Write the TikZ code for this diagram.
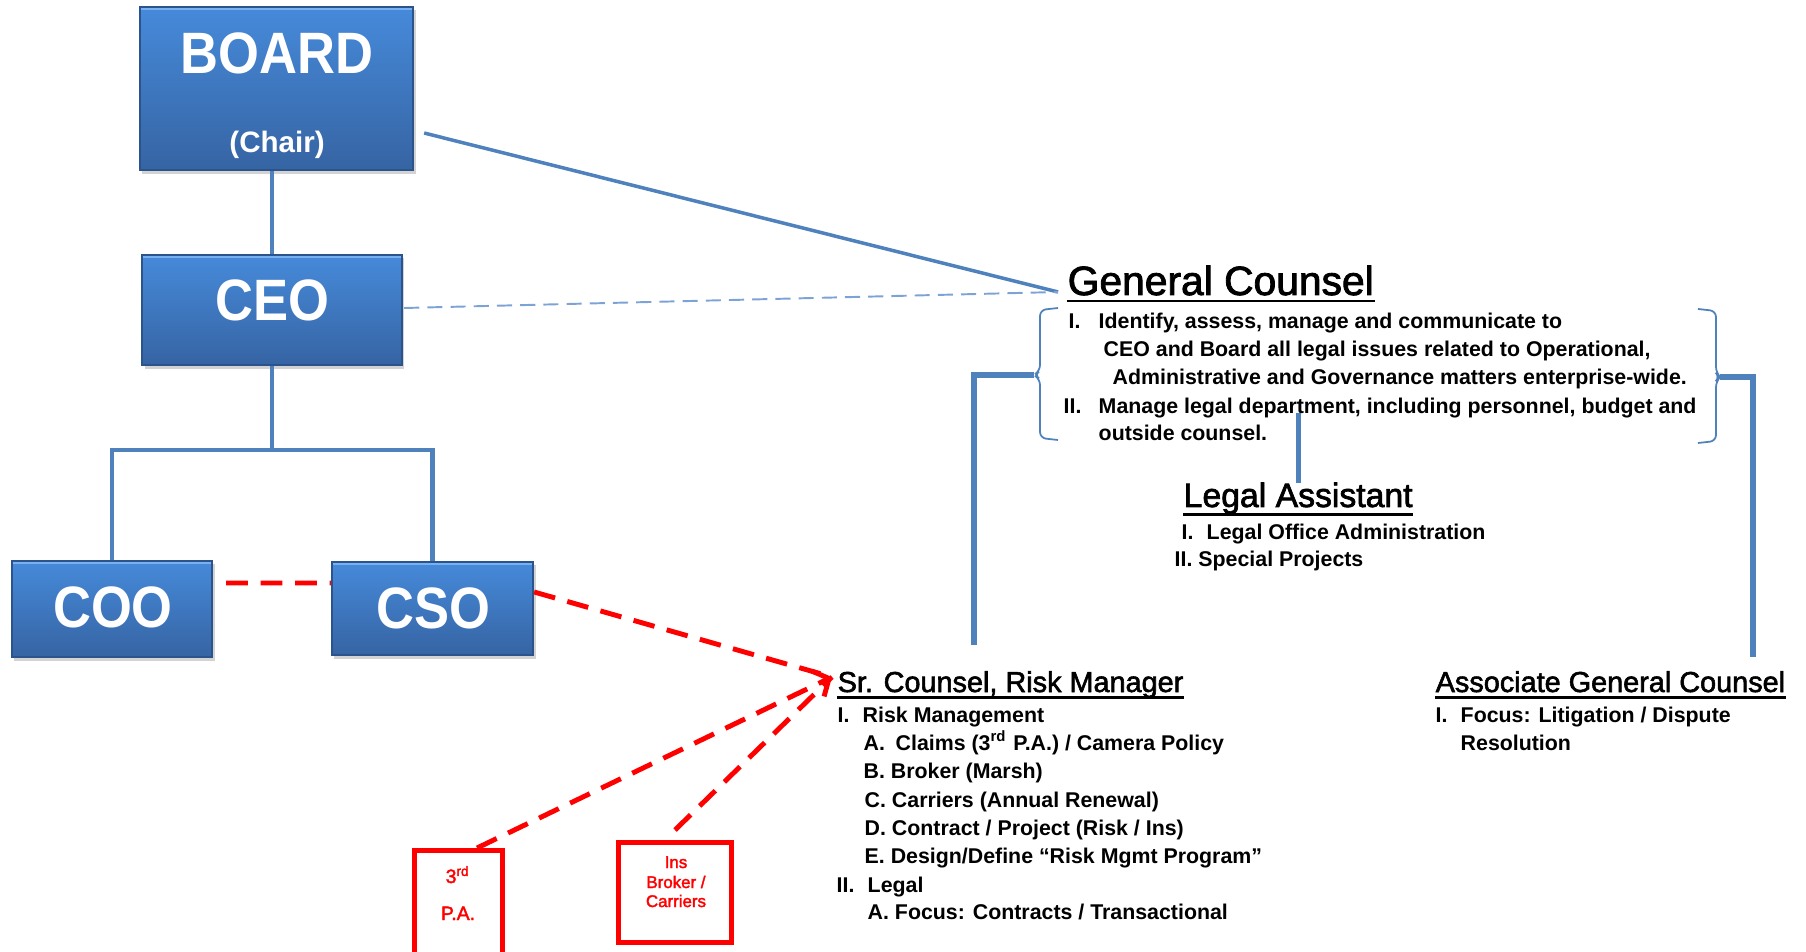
\documentclass[tikz,border=0pt]{standalone}
\usepackage{fontspec}
\setmainfont{Liberation Sans}
\newfontfamily\boxfont[FakeStretch=0.9]{Liberation Sans}
\newfontfamily\headfont[FakeBold=2]{Liberation Sans}
\usetikzlibrary{shadows,arrows.meta}

\definecolor{lineblue}{RGB}{79,129,189}
\definecolor{dashblue}{RGB}{125,163,214}
\definecolor{boxtop}{RGB}{70,138,218}
\definecolor{boxbot}{RGB}{54,100,163}
\definecolor{boxline}{RGB}{44,84,140}
\definecolor{boxhi}{RGB}{120,176,240}

\tikzset{
  orgbox/.style={draw=boxline, line width=0.6pt, top color=boxtop, bottom color=boxbot, inner sep=0pt,
    drop shadow={shadow xshift=0.025cm, shadow yshift=-0.035cm, opacity=0.35},
    path picture={\draw[boxhi, line width=1.6pt] (path picture bounding box.north west) -- (path picture bounding box.north east);}},
  boxtxt/.style={anchor=base, inner sep=0pt, text=white, font=\boxfont\bfseries\fontsize{16.6}{18}\selectfont},
  chairtxt/.style={anchor=base, inner sep=0pt, text=white, font=\bfseries\fontsize{8.4}{9}\selectfont},
  ttl/.style={anchor=base west, inner sep=0pt, font=\headfont\fontsize{#1}{#1}\selectfont},
  lst/.style={anchor=base west, inner sep=0pt, font=\bfseries\fontsize{6.07}{8}\selectfont},
  uline/.style={line width=0.85pt},
  conn/.style={draw=lineblue, line width=1.4pt},
  gcconn/.style={draw=lineblue, line width=1.5pt},
  boardline/.style={draw=lineblue, line width=1pt},
  ceodash/.style={draw=dashblue, line width=0.55pt, dash pattern=on 4.3pt off 2.3pt},
  brace/.style={draw=lineblue, line width=0.5pt, rounded corners=0.06cm},
  redbox/.style={draw=red, line width=1.4pt, inner sep=0pt},
  redtxt/.style={anchor=base, inner sep=0pt, text=red, font=\headfont\fontsize{#1}{#1}\selectfont},
  redline/.style={draw=red, line width=1.4pt, dash pattern=on 6.2pt off 3.6pt}
}

\begin{document}
\begin{tikzpicture}[x=0.01cm, y=-0.01cm]
\useasboundingbox (0,0) rectangle (1806,952);
% blue boxes
\node[orgbox, minimum width=2.73cm, minimum height=1.63cm] (board) at (276.5,88.5) {};
\node[boxtxt] (boardtxt) at (277,74) {BOARD};
\node[chairtxt] (chair) at (277,153) {(Chair)};
\node[orgbox, minimum width=2.59cm, minimum height=1.10cm] (ceo) at (272,310) {};
\node[boxtxt] (ceotxt) at (272,321) {CEO};
\node[orgbox, minimum width=2.00cm, minimum height=0.96cm] (coo) at (112,609) {};
\node[boxtxt] (cootxt) at (113,627) {COO};
\node[orgbox, minimum width=2.01cm, minimum height=0.93cm] (cso) at (432.5,608.5) {};
\node[boxtxt] (csotxt) at (433,628) {CSO};
% reporting lines
\coordinate (bus) at (272,450);
\draw[conn] (ceo.north) -- (ceo.north |- board.south);
\draw[conn] (ceo.south) -- (bus);
\draw[conn] (coo.north) |- (bus) -| (cso.north);
\coordinate (gcjoin) at (1058,292);
\draw[boardline] ([xshift=0.1cm,yshift=-0.445cm]board.east) -- (gcjoin);
\draw[ceodash] ([xshift=0.015cm,yshift=0.02cm]ceo.east) -- (gcjoin);
% general counsel
\node[ttl=11.6] (gct) at (1067,295) {General Counsel};
\draw[uline] ([yshift=-0.06cm]gct.base west) -- ([yshift=-0.06cm]gct.base east);
\node[lst] (gc1) at (1068,329) {\makebox[0.3cm][l]{I.}Identify, assess, manage and communicate to};
\node[lst] (gc2) at (1103,357) {CEO and Board all legal issues related to Operational,};
\node[lst] (gc3) at (1112,385) {Administrative and Governance matters enterprise-wide.};
\node[lst] (gc4) at (1063,413) {\makebox[0.35cm][l]{II.}Manage legal department, including personnel, budget and};
\node[lst] (gc5) at (1098,441) {outside counsel.};
\draw[brace] (1058,308) -- (1040,310) -- (1040,371) -- (1034,375) -- (1040,379) -- (1040,438) -- (1058,440);
\draw[brace] (1698,309) -- (1716,311) -- (1716,373) -- (1720,377) -- (1716,381) -- (1716,441) -- (1698,443);
\coordinate (lbrace) at (1034,375);
\coordinate (rbrace) at (1720,377);
\coordinate (srtop) at (974,645);
\coordinate (agctop) at (1753,657);
\draw[gcconn] (lbrace) -| (srtop);
\draw[gcconn] (rbrace) -| (agctop);
% legal assistant
\node[ttl=9.6] (lat) at (1183,507) {Legal Assistant};
\draw[uline] ([yshift=-0.075cm]lat.base west) -- ([yshift=-0.075cm]lat.base east);
\node[lst] (la1) at (1181,540) {\makebox[0.25cm][l]{I.}Legal Office Administration};
\node[lst] (la2) at (1174,567) {II. Special Projects};
\draw[gcconn] (lat.base |- gc4.base) -- ([yshift=0.235cm]lat.base);
% sr. counsel
\node[ttl=8.2] (srt) at (837,692) {Sr. Counsel, Risk Manager};
\draw[uline] ([yshift=-0.055cm]srt.base west) -- ([yshift=-0.055cm]srt.base east);
\node[lst] (sr1) at (837,722) {\makebox[0.25cm][l]{I.}Risk Management};
\node[lst] (sr2) at (863,750) {\makebox[0.32cm][l]{A.}Claims (3\textsuperscript{rd} P.A.) / Camera Policy};
\node[lst] (sr3) at (863,778) {B. Broker (Marsh)};
\node[lst] (sr4) at (864,807) {C. Carriers (Annual Renewal)};
\node[lst] (sr5) at (864,835) {D. Contract / Project (Risk / Ins)};
\node[lst] (sr6) at (864,863) {E. Design/Define “Risk Mgmt Program”};
\node[lst] (sr7) at (836,892) {\makebox[0.31cm][l]{II.}Legal};
\node[lst] (sr8) at (867,919) {A. Focus: Contracts / Transactional};
% associate general counsel
\node[ttl=8.2] (agct) at (1435,692) {Associate General Counsel};
\draw[uline] ([yshift=-0.055cm]agct.base west) -- ([yshift=-0.055cm]agct.base east);
\node[lst] (agc1) at (1435,722) {\makebox[0.25cm][l]{I.}Focus: Litigation / Dispute};
\node[lst] (agc2) at (1460,750) {Resolution};
% outside parties
\node[redbox, minimum width=0.88cm, minimum height=1.145cm] (tpa) at (458.5,907.75) {};
\node[redtxt=5.5] (tpa1) at (458,883) {3\textsuperscript{rd}};
\node[redtxt=5.5] (tpa2) at (458,920) {P.A.};
\node[redbox, minimum width=1.13cm, minimum height=1.0cm] (ins) at (675,892.5) {};
\node[redtxt=4.8] (ins1) at (676,868) {Ins};
\node[redtxt=4.8] (ins2) at (676,888) {Broker /};
\node[redtxt=4.8] (ins3) at (676,907) {Carriers};
% dotted line relations
\coordinate (rmjoin) at (832,677);
\draw[redline] ([xshift=0.13cm,yshift=0.26cm]coo.east) -- ([yshift=0.255cm]cso.west);
\draw[redline] ([yshift=0.165cm]cso.east) -- (rmjoin);
\draw[redline, -{Straight Barb[length=3.5pt,width=8pt]}] ([xshift=0.185cm]tpa.north) -- (rmjoin);
\draw[redline] ([yshift=0.1cm]ins.north) -- (rmjoin);
\end{tikzpicture}
\end{document}
